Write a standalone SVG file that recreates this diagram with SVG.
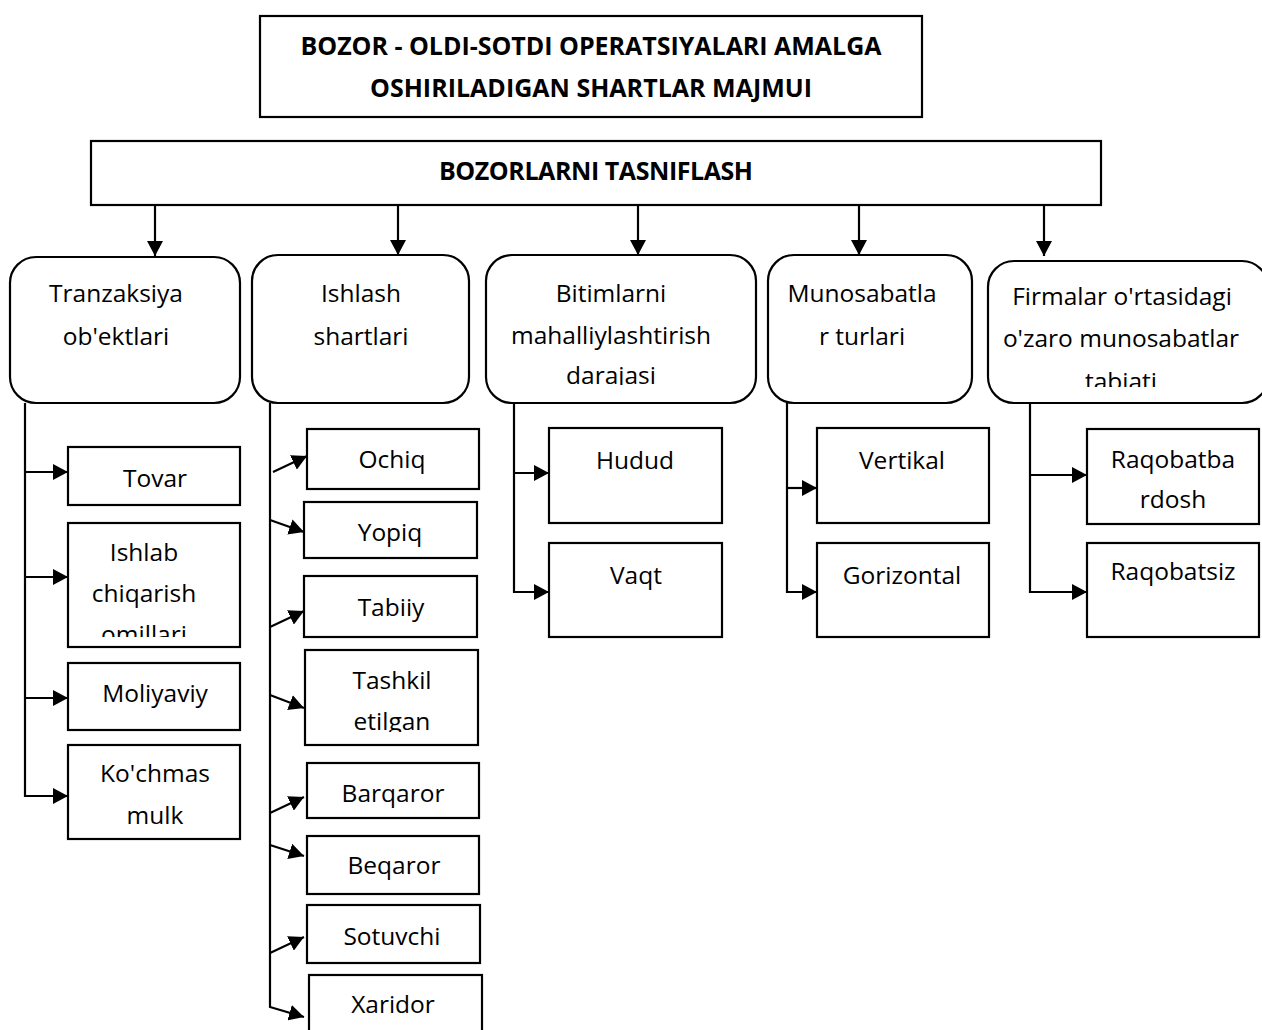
<svg xmlns="http://www.w3.org/2000/svg" width="1262" height="1030" viewBox="0 0 1262 1030">
<style>
.box{fill:#fff;stroke:#000;stroke-width:2.2}
.ln{fill:none;stroke:#000;stroke-width:2.2}
.h{font-family:"Open Sans","Liberation Sans",sans-serif;font-weight:700;font-size:25px;text-anchor:middle;fill:#000}
.t{font-family:"Open Sans","Liberation Sans",sans-serif;font-size:24.5px;text-anchor:middle;fill:#000}
</style>
<defs>
<marker id="ah" markerUnits="userSpaceOnUse" markerWidth="16" markerHeight="16" refX="15" refY="8" orient="auto">
<path d="M0,0 L15,8 L0,16 z" fill="#000"/>
</marker>
<clipPath id="cOmil"><rect x="68" y="523" width="172" height="114"/></clipPath>
<clipPath id="cEtil"><rect x="305" y="650" width="173" height="82"/></clipPath>
<clipPath id="cDar"><rect x="486" y="255" width="270" height="130"/></clipPath>
<clipPath id="cTab"><rect x="987" y="260" width="280" height="127"/></clipPath>
</defs>

<g id="title">
<rect class="box" x="260" y="16" width="662" height="101"/>
<text class="h" x="591" y="55" textLength="581">BOZOR - OLDI-SOTDI OPERATSIYALARI AMALGA</text>
<text class="h" x="591" y="97" textLength="442">OSHIRILADIGAN SHARTLAR MAJMUI</text>
</g>

<g id="classify">
<rect class="box" x="91" y="141" width="1010" height="64"/>
<text class="h" x="596" y="180" textLength="314">BOZORLARNI TASNIFLASH</text>
</g>

<g id="connectors">
<line class="ln" x1="155" y1="205" x2="155" y2="256" marker-end="url(#ah)"/>
<line class="ln" x1="398" y1="205" x2="398" y2="255" marker-end="url(#ah)"/>
<line class="ln" x1="638" y1="205" x2="638" y2="255" marker-end="url(#ah)"/>
<line class="ln" x1="859" y1="205" x2="859" y2="255" marker-end="url(#ah)"/>
<line class="ln" x1="1044" y1="205" x2="1044" y2="256" marker-end="url(#ah)"/>

<!-- column 1 -->
<polyline class="ln" points="25,403 25,796 68,796" marker-end="url(#ah)"/>
<line class="ln" x1="25" y1="472" x2="68" y2="472" marker-end="url(#ah)"/>
<line class="ln" x1="25" y1="577" x2="68" y2="577" marker-end="url(#ah)"/>
<line class="ln" x1="25" y1="698" x2="68" y2="698" marker-end="url(#ah)"/>

<!-- column 2 -->
<polyline class="ln" points="270,403 270,1007 304,1017" marker-end="url(#ah)"/>
<line class="ln" x1="273" y1="472" x2="307" y2="456" marker-end="url(#ah)"/>
<line class="ln" x1="270" y1="520" x2="304" y2="532" marker-end="url(#ah)"/>
<line class="ln" x1="270" y1="627" x2="304" y2="611" marker-end="url(#ah)"/>
<line class="ln" x1="270" y1="695" x2="304" y2="708" marker-end="url(#ah)"/>
<line class="ln" x1="270" y1="813" x2="304" y2="797" marker-end="url(#ah)"/>
<line class="ln" x1="270" y1="845" x2="304" y2="856" marker-end="url(#ah)"/>
<line class="ln" x1="270" y1="953" x2="304" y2="937" marker-end="url(#ah)"/>

<!-- column 3 -->
<polyline class="ln" points="514,403 514,592 549,592" marker-end="url(#ah)"/>
<line class="ln" x1="514" y1="473" x2="549" y2="473" marker-end="url(#ah)"/>

<!-- column 4 -->
<polyline class="ln" points="787,403 787,592 817,592" marker-end="url(#ah)"/>
<line class="ln" x1="787" y1="488" x2="817" y2="488" marker-end="url(#ah)"/>

<!-- column 5 -->
<polyline class="ln" points="1030,403 1030,592 1087,592" marker-end="url(#ah)"/>
<line class="ln" x1="1030" y1="475" x2="1087" y2="475" marker-end="url(#ah)"/>
</g>

<g id="cat1">
<rect class="box" x="10" y="257" width="230" height="146" rx="26"/>
<text class="t" x="116" y="302">Tranzaksiya</text>
<text class="t" x="116" y="345">ob'ektlari</text>
</g>
<g id="cat2">
<rect class="box" x="252" y="255" width="217" height="148" rx="26"/>
<text class="t" x="361" y="302">Ishlash</text>
<text class="t" x="361" y="345">shartlari</text>
</g>
<g id="cat3">
<rect class="box" x="486" y="255" width="270" height="148" rx="26"/>
<text class="t" x="611" y="302">Bitimlarni</text>
<text class="t" x="611" y="344">mahalliylashtirish</text>
<text class="t" x="611" y="384" clip-path="url(#cDar)">darajasi</text>
</g>
<g id="cat4">
<rect class="box" x="768" y="255" width="204" height="148" rx="26"/>
<text class="t" x="862" y="302">Munosabatla</text>
<text class="t" x="862" y="345">r turlari</text>
</g>
<g id="cat5">
<rect class="box" x="988" y="261" width="280" height="142" rx="26"/>
<text class="t" x="1122" y="305">Firmalar o'rtasidagi</text>
<text class="t" x="1121" y="347">o'zaro munosabatlar</text>
<text class="t" x="1121" y="390" clip-path="url(#cTab)">tabiati</text>
</g>

<g id="tovar">
<rect class="box" x="68" y="447" width="172" height="58"/>
<text class="t" x="155" y="487">Tovar</text>
</g>
<g id="ishlab">
<rect class="box" x="68" y="523" width="172" height="124"/>
<text class="t" x="144" y="561">Ishlab</text>
<text class="t" x="144" y="602">chiqarish</text>
<text class="t" x="144" y="643" clip-path="url(#cOmil)">omillari</text>
</g>
<g id="moliyaviy">
<rect class="box" x="68" y="663" width="172" height="67"/>
<text class="t" x="155" y="702">Moliyaviy</text>
</g>
<g id="kochmas">
<rect class="box" x="68" y="745" width="172" height="94"/>
<text class="t" x="155" y="782">Ko'chmas</text>
<text class="t" x="155" y="824">mulk</text>
</g>

<g id="ochiq">
<rect class="box" x="307" y="429" width="172" height="60"/>
<text class="t" x="392" y="468">Ochiq</text>
</g>
<g id="yopiq">
<rect class="box" x="304" y="502" width="173" height="56"/>
<text class="t" x="390" y="541">Yopiq</text>
</g>
<g id="tabiiy">
<rect class="box" x="304" y="576" width="173" height="61"/>
<text class="t" x="391" y="616">Tabiiy</text>
</g>
<g id="tashkil">
<rect class="box" x="305" y="650" width="173" height="95"/>
<text class="t" x="392" y="689">Tashkil</text>
<text class="t" x="392" y="730" clip-path="url(#cEtil)">etilgan</text>
</g>
<g id="barqaror">
<rect class="box" x="307" y="763" width="172" height="55"/>
<text class="t" x="393" y="802">Barqaror</text>
</g>
<g id="beqaror">
<rect class="box" x="307" y="836" width="172" height="58"/>
<text class="t" x="394" y="874">Beqaror</text>
</g>
<g id="sotuvchi">
<rect class="box" x="307" y="905" width="173" height="58"/>
<text class="t" x="392" y="945">Sotuvchi</text>
</g>
<g id="xaridor">
<rect class="box" x="309" y="975" width="173" height="70"/>
<text class="t" x="393" y="1013">Xaridor</text>
</g>

<g id="hudud">
<rect class="box" x="549" y="428" width="173" height="95"/>
<text class="t" x="635" y="469">Hudud</text>
</g>
<g id="vaqt">
<rect class="box" x="549" y="543" width="173" height="94"/>
<text class="t" x="636" y="584">Vaqt</text>
</g>
<g id="vertikal">
<rect class="box" x="817" y="428" width="172" height="95"/>
<text class="t" x="902" y="469">Vertikal</text>
</g>
<g id="gorizontal">
<rect class="box" x="817" y="543" width="172" height="94"/>
<text class="t" x="902" y="584">Gorizontal</text>
</g>
<g id="raqobatbardosh">
<rect class="box" x="1087" y="429" width="172" height="95"/>
<text class="t" x="1173" y="468">Raqobatba</text>
<text class="t" x="1173" y="508">rdosh</text>
</g>
<g id="raqobatsiz">
<rect class="box" x="1087" y="543" width="172" height="94"/>
<text class="t" x="1173" y="580">Raqobatsiz</text>
</g>
</svg>
